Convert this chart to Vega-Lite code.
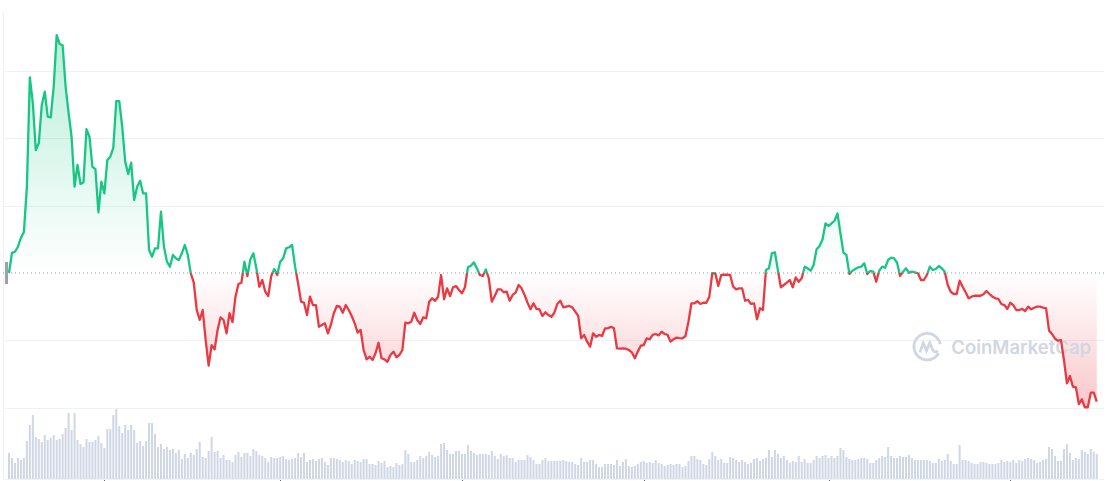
{
  "$schema": "https://vega.github.io/schema/vega-lite/v6.json",
  "width": 1101,
  "height": 467,
  "autosize": "none",
  "padding": {"left": 3, "top": 12, "right": 4, "bottom": 2},
  "background": "white",
  "config": {
    "view": {"stroke": null},
    "axisX": {"grid": false, "labels": false, "ticks": true, "tickSize": 2, "tickColor": "#58667e", "domainColor": "#eff2f5", "title": null},
    "axisY": {"labels": false, "ticks": false, "title": null, "gridColor": "#eff2f5", "domainColor": "#eff2f5"}
  },
  "data": {"values": [
    {"day":0,"price":0.3000,"volume":26},{"day":1,"price":0.3149,"volume":21},{"day":2,"price":0.3158,"volume":16},{"day":3,"price":0.3195,"volume":21},{"day":4,"price":0.3260,"volume":19},
    {"day":5,"price":0.3304,"volume":21},{"day":6,"price":0.3639,"volume":38},{"day":7,"price":0.4453,"volume":54},{"day":8,"price":0.4262,"volume":64},{"day":9,"price":0.3913,"volume":42},
    {"day":10,"price":0.3965,"volume":40},{"day":11,"price":0.4248,"volume":37},{"day":12,"price":0.4346,"volume":44},{"day":13,"price":0.4161,"volume":39},{"day":14,"price":0.4156,"volume":41},
    {"day":15,"price":0.4383,"volume":44},{"day":16,"price":0.4767,"volume":39},{"day":17,"price":0.4701,"volume":40},{"day":18,"price":0.4691,"volume":45},{"day":19,"price":0.4383,"volume":51},
    {"day":20,"price":0.4188,"volume":66},{"day":21,"price":0.4012,"volume":49},{"day":22,"price":0.3641,"volume":66},{"day":23,"price":0.3802,"volume":39},{"day":24,"price":0.3661,"volume":35},
    {"day":25,"price":0.3674,"volume":32},{"day":26,"price":0.4069,"volume":40},{"day":27,"price":0.4012,"volume":37},{"day":28,"price":0.3789,"volume":37},{"day":29,"price":0.3772,"volume":39},
    {"day":30,"price":0.3451,"volume":43},{"day":31,"price":0.3678,"volume":36},{"day":32,"price":0.3592,"volume":31},{"day":33,"price":0.3839,"volume":50},{"day":34,"price":0.3864,"volume":50},
    {"day":35,"price":0.3930,"volume":64},{"day":36,"price":0.4277,"volume":70},{"day":37,"price":0.4277,"volume":53},{"day":38,"price":0.4086,"volume":46},{"day":39,"price":0.3827,"volume":54},
    {"day":40,"price":0.3735,"volume":49},{"day":41,"price":0.3819,"volume":54},{"day":42,"price":0.3542,"volume":49},{"day":43,"price":0.3641,"volume":36},{"day":44,"price":0.3685,"volume":38},
    {"day":45,"price":0.3592,"volume":33},{"day":46,"price":0.3592,"volume":38},{"day":47,"price":0.3171,"volume":56},{"day":48,"price":0.3121,"volume":56},{"day":49,"price":0.3183,"volume":45},
    {"day":50,"price":0.3183,"volume":32},{"day":51,"price":0.3455,"volume":35},{"day":52,"price":0.3195,"volume":30},{"day":53,"price":0.3084,"volume":32},{"day":54,"price":0.3047,"volume":29},
    {"day":55,"price":0.3134,"volume":30},{"day":56,"price":0.3109,"volume":26},{"day":57,"price":0.3097,"volume":29},{"day":58,"price":0.3146,"volume":20},{"day":59,"price":0.3208,"volume":25},
    {"day":60,"price":0.3134,"volume":21},{"day":61,"price":0.2998,"volume":26},{"day":62,"price":0.2928,"volume":24},{"day":63,"price":0.2725,"volume":30},{"day":64,"price":0.2651,"volume":37},
    {"day":65,"price":0.2725,"volume":22},{"day":66,"price":0.2502,"volume":21},{"day":67,"price":0.2312,"volume":28},{"day":68,"price":0.2465,"volume":42},{"day":69,"price":0.2433,"volume":27},
    {"day":70,"price":0.2577,"volume":28},{"day":71,"price":0.2671,"volume":21},{"day":72,"price":0.2651,"volume":24},{"day":73,"price":0.2552,"volume":19},{"day":74,"price":0.2701,"volume":19},
    {"day":75,"price":0.2636,"volume":17},{"day":76,"price":0.2824,"volume":24},{"day":77,"price":0.2918,"volume":27},{"day":78,"price":0.2928,"volume":22},{"day":79,"price":0.3084,"volume":26},
    {"day":80,"price":0.2978,"volume":26},{"day":81,"price":0.3102,"volume":23},{"day":82,"price":0.3146,"volume":30},{"day":83,"price":0.3035,"volume":28},{"day":84,"price":0.2898,"volume":24},
    {"day":85,"price":0.2948,"volume":23},{"day":86,"price":0.2861,"volume":21},{"day":87,"price":0.2829,"volume":17},{"day":88,"price":0.2978,"volume":22},{"day":89,"price":0.3030,"volume":21},
    {"day":90,"price":0.2985,"volume":21},{"day":91,"price":0.3084,"volume":22},{"day":92,"price":0.3109,"volume":23},{"day":93,"price":0.3183,"volume":20},{"day":94,"price":0.3191,"volume":19},
    {"day":95,"price":0.3208,"volume":20},{"day":96,"price":0.3047,"volume":21},{"day":97,"price":0.2924,"volume":26},{"day":98,"price":0.2787,"volume":22},{"day":99,"price":0.2779,"volume":26},
    {"day":100,"price":0.2688,"volume":17},{"day":101,"price":0.2824,"volume":19},{"day":102,"price":0.2762,"volume":20},{"day":103,"price":0.2762,"volume":18},{"day":104,"price":0.2601,"volume":20},
    {"day":105,"price":0.2614,"volume":21},{"day":106,"price":0.2626,"volume":17},{"day":107,"price":0.2552,"volume":14},{"day":108,"price":0.2614,"volume":21},{"day":109,"price":0.2701,"volume":21},
    {"day":110,"price":0.2755,"volume":20},{"day":111,"price":0.2750,"volume":19},{"day":112,"price":0.2705,"volume":17},{"day":113,"price":0.2762,"volume":19},{"day":114,"price":0.2725,"volume":18},
    {"day":115,"price":0.2681,"volume":15},{"day":116,"price":0.2626,"volume":19},{"day":117,"price":0.2557,"volume":18},{"day":118,"price":0.2577,"volume":17},{"day":119,"price":0.2428,"volume":20},
    {"day":120,"price":0.2359,"volume":20},{"day":121,"price":0.2378,"volume":15},{"day":122,"price":0.2354,"volume":15},{"day":123,"price":0.2404,"volume":14},{"day":124,"price":0.2482,"volume":18},
    {"day":125,"price":0.2367,"volume":16},{"day":126,"price":0.2359,"volume":18},{"day":127,"price":0.2341,"volume":12},{"day":128,"price":0.2391,"volume":13},{"day":129,"price":0.2416,"volume":12},
    {"day":130,"price":0.2374,"volume":16},{"day":131,"price":0.2391,"volume":14},{"day":132,"price":0.2428,"volume":15},{"day":133,"price":0.2631,"volume":29},{"day":134,"price":0.2626,"volume":25},
    {"day":135,"price":0.2638,"volume":17},{"day":136,"price":0.2705,"volume":17},{"day":137,"price":0.2651,"volume":19},{"day":138,"price":0.2621,"volume":23},{"day":139,"price":0.2671,"volume":21},
    {"day":140,"price":0.2664,"volume":23},{"day":141,"price":0.2787,"volume":27},{"day":142,"price":0.2812,"volume":24},{"day":143,"price":0.2794,"volume":22},{"day":144,"price":0.2824,"volume":23},
    {"day":145,"price":0.2985,"volume":35},{"day":146,"price":0.2805,"volume":36},{"day":147,"price":0.2886,"volume":29},{"day":148,"price":0.2829,"volume":25},{"day":149,"price":0.2894,"volume":25},
    {"day":150,"price":0.2903,"volume":28},{"day":151,"price":0.2874,"volume":28},{"day":152,"price":0.2849,"volume":25},{"day":153,"price":0.2894,"volume":25},{"day":154,"price":0.3042,"volume":34},
    {"day":155,"price":0.3054,"volume":28},{"day":156,"price":0.3079,"volume":26},{"day":157,"price":0.3035,"volume":24},{"day":158,"price":0.2985,"volume":25},{"day":159,"price":0.2978,"volume":25},
    {"day":160,"price":0.3027,"volume":25},{"day":161,"price":0.2961,"volume":24},{"day":162,"price":0.2787,"volume":28},{"day":163,"price":0.2829,"volume":23},{"day":164,"price":0.2879,"volume":20},
    {"day":165,"price":0.2879,"volume":25},{"day":166,"price":0.2857,"volume":23},{"day":167,"price":0.2861,"volume":24},{"day":168,"price":0.2794,"volume":21},{"day":169,"price":0.2837,"volume":21},
    {"day":170,"price":0.2854,"volume":17},{"day":171,"price":0.2911,"volume":19},{"day":172,"price":0.2886,"volume":19},{"day":173,"price":0.2837,"volume":19},{"day":174,"price":0.2779,"volume":24},
    {"day":175,"price":0.2730,"volume":22},{"day":176,"price":0.2775,"volume":19},{"day":177,"price":0.2733,"volume":15},{"day":178,"price":0.2730,"volume":15},{"day":179,"price":0.2681,"volume":19},
    {"day":180,"price":0.2708,"volume":21},{"day":181,"price":0.2688,"volume":18},{"day":182,"price":0.2675,"volume":18},{"day":183,"price":0.2705,"volume":18},{"day":184,"price":0.2770,"volume":18},
    {"day":185,"price":0.2794,"volume":18},{"day":186,"price":0.2745,"volume":19},{"day":187,"price":0.2750,"volume":18},{"day":188,"price":0.2755,"volume":17},{"day":189,"price":0.2745,"volume":17},
    {"day":190,"price":0.2713,"volume":15},{"day":191,"price":0.2681,"volume":14},{"day":192,"price":0.2515,"volume":21},{"day":193,"price":0.2540,"volume":17},{"day":194,"price":0.2490,"volume":17},
    {"day":195,"price":0.2453,"volume":19},{"day":196,"price":0.2552,"volume":19},{"day":197,"price":0.2527,"volume":15},{"day":198,"price":0.2540,"volume":12},{"day":199,"price":0.2532,"volume":12},
    {"day":200,"price":0.2589,"volume":15},{"day":201,"price":0.2589,"volume":15},{"day":202,"price":0.2601,"volume":15},{"day":203,"price":0.2589,"volume":14},{"day":204,"price":0.2441,"volume":19},
    {"day":205,"price":0.2438,"volume":13},{"day":206,"price":0.2441,"volume":17},{"day":207,"price":0.2438,"volume":20},{"day":208,"price":0.2428,"volume":13},{"day":209,"price":0.2411,"volume":12},
    {"day":210,"price":0.2367,"volume":13},{"day":211,"price":0.2416,"volume":15},{"day":212,"price":0.2460,"volume":17},{"day":213,"price":0.2465,"volume":18},{"day":214,"price":0.2515,"volume":16},
    {"day":215,"price":0.2508,"volume":17},{"day":216,"price":0.2540,"volume":16},{"day":217,"price":0.2547,"volume":19},{"day":218,"price":0.2537,"volume":16},{"day":219,"price":0.2564,"volume":15},
    {"day":220,"price":0.2547,"volume":13},{"day":221,"price":0.2540,"volume":14},{"day":222,"price":0.2490,"volume":15},{"day":223,"price":0.2508,"volume":14},{"day":224,"price":0.2520,"volume":15},
    {"day":225,"price":0.2517,"volume":15},{"day":226,"price":0.2515,"volume":12},{"day":227,"price":0.2532,"volume":13},{"day":228,"price":0.2638,"volume":18},{"day":229,"price":0.2775,"volume":23},
    {"day":230,"price":0.2775,"volume":23},{"day":231,"price":0.2790,"volume":20},{"day":232,"price":0.2770,"volume":19},{"day":233,"price":0.2779,"volume":15},{"day":234,"price":0.2779,"volume":14},
    {"day":235,"price":0.2824,"volume":20},{"day":236,"price":0.2998,"volume":27},{"day":237,"price":0.2998,"volume":23},{"day":238,"price":0.2903,"volume":19},{"day":239,"price":0.2985,"volume":20},
    {"day":240,"price":0.2987,"volume":16},{"day":241,"price":0.2987,"volume":16},{"day":242,"price":0.2985,"volume":22},{"day":243,"price":0.2898,"volume":21},{"day":244,"price":0.2879,"volume":19},
    {"day":245,"price":0.2886,"volume":17},{"day":246,"price":0.2886,"volume":19},{"day":247,"price":0.2794,"volume":17},{"day":248,"price":0.2800,"volume":15},{"day":249,"price":0.2770,"volume":16},
    {"day":250,"price":0.2775,"volume":20},{"day":251,"price":0.2656,"volume":21},{"day":252,"price":0.2738,"volume":18},{"day":253,"price":0.2725,"volume":20},{"day":254,"price":0.3022,"volume":21},
    {"day":255,"price":0.3035,"volume":29},{"day":256,"price":0.3146,"volume":22},{"day":257,"price":0.3154,"volume":29},{"day":258,"price":0.3022,"volume":25},{"day":259,"price":0.2894,"volume":21},
    {"day":260,"price":0.2911,"volume":23},{"day":261,"price":0.2928,"volume":19},{"day":262,"price":0.2948,"volume":16},{"day":263,"price":0.2894,"volume":18},{"day":264,"price":0.2968,"volume":17},
    {"day":265,"price":0.2935,"volume":23},{"day":266,"price":0.2961,"volume":17},{"day":267,"price":0.3047,"volume":20},{"day":268,"price":0.3035,"volume":16},{"day":269,"price":0.3017,"volume":16},
    {"day":270,"price":0.3059,"volume":19},{"day":271,"price":0.3176,"volume":23},{"day":272,"price":0.3201,"volume":21},{"day":273,"price":0.3250,"volume":23},{"day":274,"price":0.3369,"volume":24},
    {"day":275,"price":0.3349,"volume":21},{"day":276,"price":0.3369,"volume":23},{"day":277,"price":0.3388,"volume":21},{"day":278,"price":0.3443,"volume":23},{"day":279,"price":0.3295,"volume":31},
    {"day":280,"price":0.3151,"volume":29},{"day":281,"price":0.3134,"volume":22},{"day":282,"price":0.2993,"volume":20},{"day":283,"price":0.3017,"volume":19},{"day":284,"price":0.3030,"volume":19},
    {"day":285,"price":0.3042,"volume":20},{"day":286,"price":0.3047,"volume":21},{"day":287,"price":0.3072,"volume":21},{"day":288,"price":0.2993,"volume":20},{"day":289,"price":0.3015,"volume":16},
    {"day":290,"price":0.3010,"volume":16},{"day":291,"price":0.2935,"volume":19},{"day":292,"price":0.3017,"volume":21},{"day":293,"price":0.3047,"volume":23},{"day":294,"price":0.3039,"volume":22},
    {"day":295,"price":0.3097,"volume":32},{"day":296,"price":0.3114,"volume":23},{"day":297,"price":0.3109,"volume":21},{"day":298,"price":0.3076,"volume":21},{"day":299,"price":0.2978,"volume":23},
    {"day":300,"price":0.3010,"volume":22},{"day":301,"price":0.3035,"volume":22},{"day":302,"price":0.3002,"volume":24},{"day":303,"price":0.3010,"volume":21},{"day":304,"price":0.3005,"volume":19},
    {"day":305,"price":0.2998,"volume":19},{"day":306,"price":0.2948,"volume":19},{"day":307,"price":0.2948,"volume":19},{"day":308,"price":0.2985,"volume":19},{"day":309,"price":0.3047,"volume":18},
    {"day":310,"price":0.3022,"volume":16},{"day":311,"price":0.3030,"volume":16},{"day":312,"price":0.3052,"volume":20},{"day":313,"price":0.3035,"volume":18},{"day":314,"price":0.3010,"volume":19},
    {"day":315,"price":0.2911,"volume":25},{"day":316,"price":0.2861,"volume":18},{"day":317,"price":0.2844,"volume":15},{"day":318,"price":0.2844,"volume":15},{"day":319,"price":0.2943,"volume":34},
    {"day":320,"price":0.2898,"volume":19},{"day":321,"price":0.2857,"volume":19},{"day":322,"price":0.2812,"volume":18},{"day":323,"price":0.2824,"volume":16},{"day":324,"price":0.2831,"volume":15},
    {"day":325,"price":0.2831,"volume":15},{"day":326,"price":0.2831,"volume":17},{"day":327,"price":0.2842,"volume":17},{"day":328,"price":0.2866,"volume":16},{"day":329,"price":0.2844,"volume":15},
    {"day":330,"price":0.2824,"volume":15},{"day":331,"price":0.2812,"volume":15},{"day":332,"price":0.2807,"volume":16},{"day":333,"price":0.2770,"volume":19},{"day":334,"price":0.2762,"volume":17},
    {"day":335,"price":0.2733,"volume":18},{"day":336,"price":0.2779,"volume":17},{"day":337,"price":0.2762,"volume":19},{"day":338,"price":0.2725,"volume":16},{"day":339,"price":0.2725,"volume":19},
    {"day":340,"price":0.2733,"volume":18},{"day":341,"price":0.2718,"volume":20},{"day":342,"price":0.2750,"volume":21},{"day":343,"price":0.2730,"volume":20},{"day":344,"price":0.2742,"volume":19},
    {"day":345,"price":0.2750,"volume":16},{"day":346,"price":0.2750,"volume":17},{"day":347,"price":0.2742,"volume":19},{"day":348,"price":0.2738,"volume":20},{"day":349,"price":0.2572,"volume":32},
    {"day":350,"price":0.2547,"volume":30},{"day":351,"price":0.2512,"volume":23},{"day":352,"price":0.2497,"volume":18},{"day":353,"price":0.2502,"volume":18},{"day":354,"price":0.2354,"volume":30},
    {"day":355,"price":0.2181,"volume":35},{"day":356,"price":0.2235,"volume":26},{"day":357,"price":0.2156,"volume":19},{"day":358,"price":0.2151,"volume":21},{"day":359,"price":0.2027,"volume":20},
    {"day":360,"price":0.2062,"volume":29},{"day":361,"price":0.2003,"volume":27},{"day":362,"price":0.2003,"volume":25},{"day":363,"price":0.2111,"volume":30},{"day":364,"price":0.2111,"volume":27},
    {"day":365,"price":0.2044,"volume":25}
  ]},
  "resolve": {"scale": {"y": "independent"}},
  "layer": [
    {
      "mark": {"type": "bar", "width": 2, "color": "#cfd6e4"},
      "encoding": {
        "x": {"field": "day", "type": "quantitative", "scale": {"domain": [-0.3325, 365.76], "nice": false, "zero": false}, "axis": {"values": [32, 91, 152, 213, 275, 336]}},
        "y": {"field": "volume", "type": "quantitative", "scale": {"domain": [0, 467], "nice": false}, "axis": null}
      }
    },
    {
      "layer": [
        {
          "mark": {
            "type": "area",
            "fill": {
              "gradient": "linear", "x1": 0, "y1": 0, "x2": 0, "y2": 1,
              "stops": [
                {"offset": 0, "color": "rgba(22,199,132,0.3)"},
                {"offset": 0.6393, "color": "rgba(22,199,132,0)"},
                {"offset": 0.6393, "color": "rgba(234,57,67,0)"},
                {"offset": 1, "color": "rgba(234,57,67,0.28)"}
              ]
            }
          },
          "encoding": {
            "x": {"field": "day", "type": "quantitative", "scale": {"domain": [-0.3325, 365.76], "nice": false, "zero": false}, "axis": {"values": [32, 91, 152, 213, 275, 336]}},
            "y": {"field": "price", "type": "quantitative", "scale": {"domain": [0.14702, 0.49382], "nice": false, "zero": false}, "axis": {"orient": "left", "values": [0.2, 0.25, 0.35, 0.4, 0.45], "grid": true}},
            "y2": {"datum": 0.3}
          }
        },
        {
          "data": {"values": [{}]},
          "mark": {"type": "text", "text": "CoinMarketCap", "align": "left", "baseline": "alphabetic", "font": "Inter", "fontSize": 18.5, "fontWeight": 600, "color": "#d1d7e2"},
          "encoding": {
            "x": {"datum": 316.2},
            "y": {"datum": 0.2398}
          }
        },
        {
          "data": {"values": [{}]},
          "mark": {
            "type": "point",
            "shape": "M0.866,0.5A1,1,0,1,1,0.985,-0.174M-0.55,0.42L-0.3,-0.28L-0.05,0.3L0.2,-0.28L0.42,0.25Q0.55,0.5,0.82,0.32",
            "size": 700,
            "filled": false,
            "stroke": "#d1d7e2",
            "strokeWidth": 2.8,
            "opacity": 1
          },
          "encoding": {
            "x": {"datum": 308.1},
            "y": {"datum": 0.2453}
          }
        },
        {
          "data": {"values": [{}]},
          "mark": {"type": "rule", "strokeDash": [1, 3], "strokeWidth": 1, "color": "#8f97a8"},
          "encoding": {
            "y": {"datum": 0.3}
          }
        },
        {
          "mark": {
            "type": "line",
            "strokeWidth": 2.3,
            "strokeJoin": "round",
            "stroke": {
              "gradient": "linear", "x1": 0, "y1": 0, "x2": 0, "y2": 1,
              "stops": [
                {"offset": 0, "color": "#16c784"},
                {"offset": 0.6393, "color": "#16c784"},
                {"offset": 0.6393, "color": "#ea3943"},
                {"offset": 1, "color": "#ea3943"}
              ]
            }
          },
          "encoding": {
            "x": {"field": "day", "type": "quantitative", "scale": {"domain": [-0.3325, 365.76], "nice": false, "zero": false}, "axis": {"values": [32, 91, 152, 213, 275, 336]}},
            "y": {"field": "price", "type": "quantitative", "scale": {"domain": [0.14702, 0.49382], "nice": false, "zero": false}}
          }
        },
        {
          "data": {"values": [{}]},
          "mark": {"type": "rect", "color": "#9ba1ad"},
          "encoding": {
            "x": {"datum": -1.33},
            "x2": {"datum": -0.3325},
            "y": {"datum": 0.3082},
            "y2": {"datum": 0.2918}
          }
        }
      ]
    }
  ]
}
